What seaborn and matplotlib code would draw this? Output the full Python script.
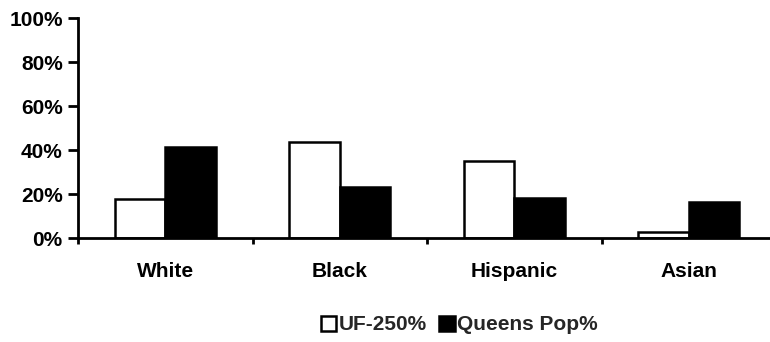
import matplotlib
matplotlib.use("Agg")
import matplotlib.pyplot as plt
import seaborn as sns
import pandas as pd
import numpy as np
from matplotlib.patches import Patch
from matplotlib.ticker import FixedLocator, FuncFormatter

# Share of each group (percent)
categories = ["White", "Black", "Hispanic", "Asian"]
uf_250 = [17.7, 43.7, 35.0, 2.9]
queens_pop = [41.6, 23.4, 18.2, 16.2]
series_names = ["UF-250%", "Queens Pop%"]
y_ticks = [0, 20, 40, 60, 80, 100]

df = pd.DataFrame({
    "group": categories * 2,
    "series": [series_names[0]] * 4 + [series_names[1]] * 4,
    "value": uf_250 + queens_pop,
})

sns.set_theme(style="white")
plt.rcParams["font.family"] = ["Liberation Sans", "DejaVu Sans"]

fig = plt.figure(figsize=(7.7, 3.42), dpi=100)
ax = fig.add_axes([78 / 770, 1 - 238 / 342, 1 - 78 / 770, (238 - 18.3) / 342])

sns.barplot(
    data=df, x="group", y="value", hue="series",
    order=categories, hue_order=series_names,
    palette=["white", "black"], width=0.58, gap=0,
    edgecolor="black", linewidth=1.8, saturation=1,
    legend=False, ax=ax,
)

ax.set_ylim(0, 100)
ax.set_xlim(-0.5, 3.5 - 6 / 174.5)
ax.set_xlabel("")
ax.set_ylabel("")

for side in ["top", "right"]:
    ax.spines[side].set_visible(False)
for side in ["left", "bottom"]:
    ax.spines[side].set_color("black")
    ax.spines[side].set_linewidth(2)

ax.yaxis.set_major_locator(FixedLocator(y_ticks))
ax.yaxis.set_major_formatter(FuncFormatter(lambda v, p: f"{int(v)}%"))
ax.tick_params(axis="y", which="major", left=True, direction="out", length=7,
               width=2, color="black", pad=4, labelsize=15, labelcolor="black")
for t in ax.get_yticklabels():
    t.set_fontweight("bold")

ax.set_xticks(range(len(categories)))
ax.set_xticklabels(categories, fontsize=15, fontweight="bold", color="black")
ax.tick_params(axis="x", which="major", bottom=False, length=0, pad=17)
ax.set_xticks(np.arange(len(categories)) - 0.5, minor=True)
ax.tick_params(axis="x", which="minor", bottom=True, direction="out",
               length=4, width=2, color="black")

handles = [
    Patch(facecolor="white", edgecolor="black", linewidth=1.8),
    Patch(facecolor="black", edgecolor="black", linewidth=1.8),
]
fig.legend(handles, series_names, loc="center", bbox_to_anchor=(459 / 770, 1 - 325 / 342),
           ncol=2, frameon=False, handlelength=0.75, handleheight=0.75,
           handletextpad=0.1, columnspacing=0.6,
           prop={"size": 15, "weight": "bold"})

fig.savefig("out.png", dpi=100, facecolor="white")
